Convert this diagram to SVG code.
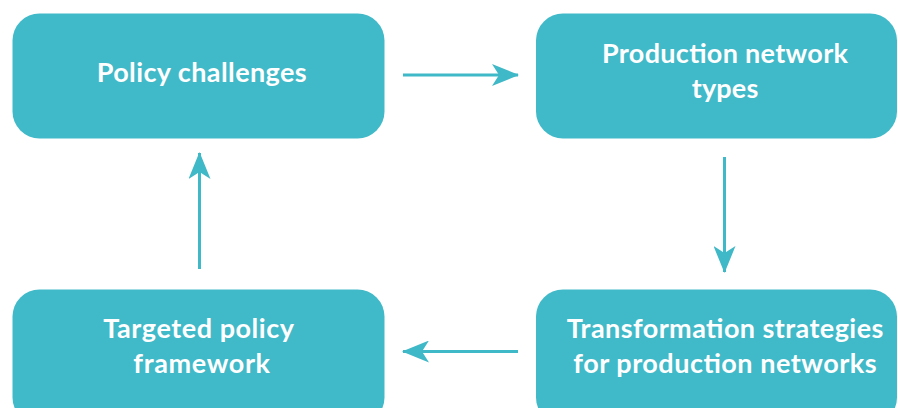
<svg xmlns="http://www.w3.org/2000/svg" width="898" height="408" viewBox="0 0 898 408">
  <style>
    .box { fill: #40B9C8; }
    .label { font-family: Lato, "Open Sans", "Liberation Sans", sans-serif; font-weight: 700; font-size: 27px; fill: #FFFFFF; text-anchor: middle; }
    .link { stroke: #3FB8C7; stroke-width: 3; fill: none; }
  </style>
  <defs>
    <marker id="head" viewBox="0 0 27 22" refX="26" refY="11" markerWidth="27" markerHeight="22" markerUnits="userSpaceOnUse" orient="auto">
      <path d="M0,0 L27,11 L0,22 L7,11 Z" fill="#3FB8C7"/>
    </marker>
  </defs>
  <rect width="898" height="408" fill="#FFFFFF"/>

  <g id="policy-challenges">
    <rect class="box" x="12.5" y="13.5" width="372" height="125" rx="27"/>
    <text class="label" x="201.7" y="82" textLength="210">Policy challenges</text>
  </g>

  <g id="production-network-types">
    <rect class="box" x="536" y="13.5" width="361" height="125" rx="27"/>
    <text class="label" x="725" y="63.3" textLength="246">Production network</text>
    <text class="label" x="725" y="98.3" textLength="66.7">types</text>
  </g>

  <g id="transformation-strategies">
    <rect class="box" x="536" y="289.5" width="361" height="135" rx="27"/>
    <text class="label" x="725" y="338.3" textLength="316.7">Transformation strategies</text>
    <text class="label" x="725" y="373.3" textLength="303.3">for production networks</text>
  </g>

  <g id="targeted-policy-framework">
    <rect class="box" x="12.5" y="289.5" width="372" height="135" rx="27"/>
    <text class="label" x="198.7" y="338.3" textLength="190.7">Targeted policy</text>
    <text class="label" x="201.7" y="373.3" textLength="136.7">framework</text>
  </g>

  <g id="connectors">
    <line class="link" x1="403" y1="75" x2="518" y2="75" marker-end="url(#head)"/>
    <line class="link" x1="724.5" y1="157" x2="724.5" y2="272" marker-end="url(#head)"/>
    <line class="link" x1="518" y1="351.5" x2="403" y2="351.5" marker-end="url(#head)"/>
    <line class="link" x1="199.5" y1="269" x2="199.5" y2="153" marker-end="url(#head)"/>
  </g>
</svg>
